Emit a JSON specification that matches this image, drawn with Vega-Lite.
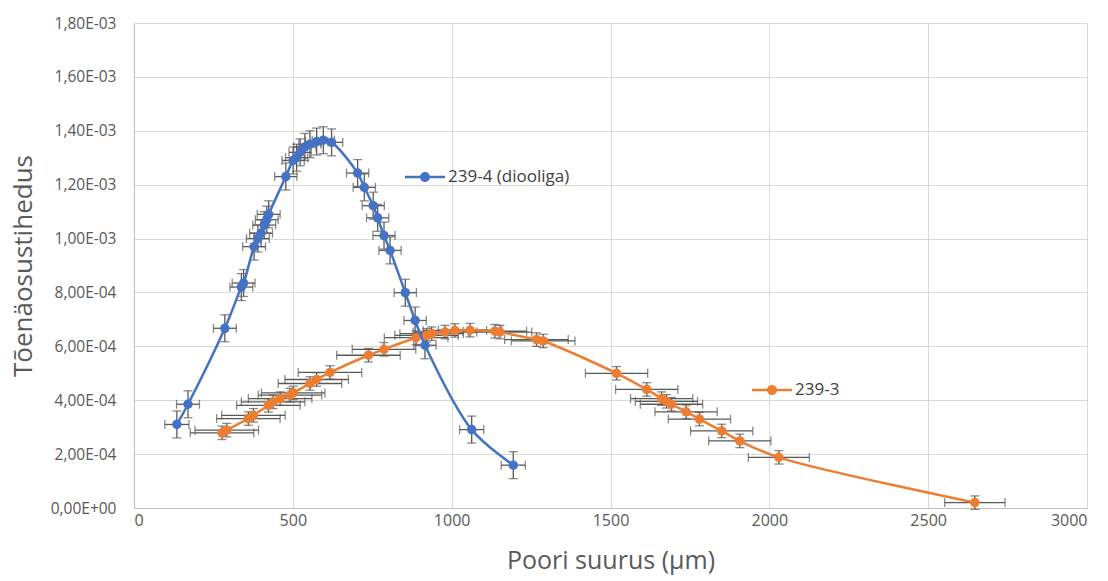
{
  "$schema": "https://vega.github.io/schema/vega-lite/v6.json",
  "autosize": "none",
  "width": 953,
  "height": 485,
  "padding": {"left": 134, "top": 23, "right": 21, "bottom": 73},
  "background": "white",
  "config": {
    "view": {"stroke": null},
    "font": "Open Sans",
    "axis": {"labelColor": "#595959", "titleColor": "#595959", "labelFont": "Open Sans", "titleFont": "Open Sans", "titleFontWeight": "normal", "gridColor": "#d9d9d9", "gridWidth": 1, "domainColor": "#bfbfbf", "ticks": false}
  },
  "data": {
    "values": [
      {"s": "239-4 (diooliga)", "x": 135, "y": 0.000310, "ex": 38, "ey": 0.00005},
      {"s": "239-4 (diooliga)", "x": 170, "y": 0.000385, "ex": 36, "ey": 0.00005},
      {"s": "239-4 (diooliga)", "x": 286, "y": 0.000667, "ex": 36, "ey": 0.00005},
      {"s": "239-4 (diooliga)", "x": 338, "y": 0.000820, "ex": 36, "ey": 0.00005},
      {"s": "239-4 (diooliga)", "x": 345, "y": 0.000835, "ex": 36, "ey": 0.00005},
      {"s": "239-4 (diooliga)", "x": 378, "y": 0.000970, "ex": 36, "ey": 0.00005},
      {"s": "239-4 (diooliga)", "x": 390, "y": 0.001000, "ex": 36, "ey": 0.00005},
      {"s": "239-4 (diooliga)", "x": 400, "y": 0.001020, "ex": 36, "ey": 0.00005},
      {"s": "239-4 (diooliga)", "x": 410, "y": 0.001050, "ex": 36, "ey": 0.00005},
      {"s": "239-4 (diooliga)", "x": 418, "y": 0.001070, "ex": 36, "ey": 0.00005},
      {"s": "239-4 (diooliga)", "x": 424, "y": 0.001090, "ex": 36, "ey": 0.00005},
      {"s": "239-4 (diooliga)", "x": 478, "y": 0.001230, "ex": 35, "ey": 0.00005},
      {"s": "239-4 (diooliga)", "x": 501, "y": 0.001290, "ex": 35, "ey": 0.00005},
      {"s": "239-4 (diooliga)", "x": 512, "y": 0.001300, "ex": 35, "ey": 0.00005},
      {"s": "239-4 (diooliga)", "x": 523, "y": 0.001320, "ex": 35, "ey": 0.00005},
      {"s": "239-4 (diooliga)", "x": 538, "y": 0.001340, "ex": 35, "ey": 0.00005},
      {"s": "239-4 (diooliga)", "x": 554, "y": 0.001350, "ex": 35, "ey": 0.00005},
      {"s": "239-4 (diooliga)", "x": 575, "y": 0.001360, "ex": 35, "ey": 0.00005},
      {"s": "239-4 (diooliga)", "x": 596, "y": 0.001365, "ex": 35, "ey": 0.00005},
      {"s": "239-4 (diooliga)", "x": 622, "y": 0.001357, "ex": 35, "ey": 0.00005},
      {"s": "239-4 (diooliga)", "x": 704, "y": 0.001243, "ex": 35, "ey": 0.00005},
      {"s": "239-4 (diooliga)", "x": 725, "y": 0.001190, "ex": 35, "ey": 0.00005},
      {"s": "239-4 (diooliga)", "x": 753, "y": 0.001122, "ex": 35, "ey": 0.00005},
      {"s": "239-4 (diooliga)", "x": 767, "y": 0.001077, "ex": 35, "ey": 0.00005},
      {"s": "239-4 (diooliga)", "x": 787, "y": 0.001011, "ex": 35, "ey": 0.00005},
      {"s": "239-4 (diooliga)", "x": 806, "y": 0.000956, "ex": 35, "ey": 0.00005},
      {"s": "239-4 (diooliga)", "x": 854, "y": 0.000799, "ex": 35, "ey": 0.00005},
      {"s": "239-4 (diooliga)", "x": 885, "y": 0.000696, "ex": 35, "ey": 0.00005},
      {"s": "239-4 (diooliga)", "x": 916, "y": 0.000604, "ex": 35, "ey": 0.00005},
      {"s": "239-4 (diooliga)", "x": 1063, "y": 0.000291, "ex": 38, "ey": 0.00005},
      {"s": "239-4 (diooliga)", "x": 1194, "y": 0.000159, "ex": 38, "ey": 0.00005},
      {"s": "239-3", "x": 277, "y": 0.000279, "ex": 100, "ey": 0.000025},
      {"s": "239-3", "x": 292, "y": 0.000289, "ex": 100, "ey": 0.000025},
      {"s": "239-3", "x": 360, "y": 0.000332, "ex": 100, "ey": 0.000025},
      {"s": "239-3", "x": 376, "y": 0.000344, "ex": 100, "ey": 0.000025},
      {"s": "239-3", "x": 423, "y": 0.000381, "ex": 100, "ey": 0.000025},
      {"s": "239-3", "x": 438, "y": 0.000394, "ex": 100, "ey": 0.000025},
      {"s": "239-3", "x": 460, "y": 0.000406, "ex": 100, "ey": 0.000025},
      {"s": "239-3", "x": 491, "y": 0.000419, "ex": 100, "ey": 0.000025},
      {"s": "239-3", "x": 501, "y": 0.000427, "ex": 100, "ey": 0.000025},
      {"s": "239-3", "x": 554, "y": 0.000462, "ex": 100, "ey": 0.000025},
      {"s": "239-3", "x": 575, "y": 0.000477, "ex": 100, "ey": 0.000025},
      {"s": "239-3", "x": 617, "y": 0.000503, "ex": 100, "ey": 0.000025},
      {"s": "239-3", "x": 738, "y": 0.000567, "ex": 100, "ey": 0.000025},
      {"s": "239-3", "x": 787, "y": 0.000589, "ex": 100, "ey": 0.000025},
      {"s": "239-3", "x": 888, "y": 0.000632, "ex": 100, "ey": 0.000025},
      {"s": "239-3", "x": 921, "y": 0.000641, "ex": 100, "ey": 0.000025},
      {"s": "239-3", "x": 937, "y": 0.000647, "ex": 100, "ey": 0.000025},
      {"s": "239-3", "x": 979, "y": 0.000653, "ex": 100, "ey": 0.000025},
      {"s": "239-3", "x": 1010, "y": 0.000659, "ex": 100, "ey": 0.000025},
      {"s": "239-3", "x": 1058, "y": 0.000660, "ex": 100, "ey": 0.000025},
      {"s": "239-3", "x": 1136, "y": 0.000656, "ex": 100, "ey": 0.000025},
      {"s": "239-3", "x": 1152, "y": 0.000653, "ex": 100, "ey": 0.000025},
      {"s": "239-3", "x": 1267, "y": 0.000625, "ex": 100, "ey": 0.000025},
      {"s": "239-3", "x": 1288, "y": 0.000620, "ex": 100, "ey": 0.000025},
      {"s": "239-3", "x": 1519, "y": 0.000500, "ex": 98, "ey": 0.000025},
      {"s": "239-3", "x": 1614, "y": 0.000440, "ex": 98, "ey": 0.000025},
      {"s": "239-3", "x": 1661, "y": 0.000406, "ex": 98, "ey": 0.000025},
      {"s": "239-3", "x": 1676, "y": 0.000396, "ex": 98, "ey": 0.000025},
      {"s": "239-3", "x": 1692, "y": 0.000385, "ex": 98, "ey": 0.000025},
      {"s": "239-3", "x": 1738, "y": 0.000357, "ex": 98, "ey": 0.000025},
      {"s": "239-3", "x": 1780, "y": 0.000330, "ex": 98, "ey": 0.000025},
      {"s": "239-3", "x": 1850, "y": 0.000286, "ex": 98, "ey": 0.000025},
      {"s": "239-3", "x": 1907, "y": 0.000249, "ex": 98, "ey": 0.000025},
      {"s": "239-3", "x": 2030, "y": 0.000188, "ex": 96, "ey": 0.000025},
      {"s": "239-3", "x": 2647, "y": 0.000020, "ex": 95, "ey": 0.000025}
    ]
  },
  "encoding": {
    "x": {"field": "x", "type": "quantitative", "scale": {"domain": [0, 3000], "nice": false},
      "axis": {"values": [0, 500, 1000, 1500, 2000, 2500, 3000], "format": "d", "labelFontSize": 16, "labelPadding": 4, "title": "Poori suurus (µm)", "titleFontSize": 25, "titlePadding": 20}},
    "y": {"field": "y", "type": "quantitative", "scale": {"domain": [0, 0.0018], "nice": false},
      "axis": {"values": [0, 0.0002, 0.0004, 0.0006, 0.0008, 0.001, 0.0012, 0.0014, 0.0016, 0.0018],
        "labelExpr": "replace(replace(replace(replace(format(datum.value, '.2e'), '.', ','), 'e-3', 'E-03'), 'e-4', 'E-04'), 'e+0', 'E+00')",
        "labelFontSize": 15.5, "labelPadding": 18, "title": "Tõenäosustihedus", "titleFontSize": 26, "titlePadding": 14}}
  },
  "layer": [
    {"mark": {"type": "errorbar", "ticks": {"size": 9, "color": "#595959"}, "color": "#595959", "thickness": 1.3},
     "encoding": {"x": {"field": "x", "type": "quantitative"}, "xError": {"field": "ex"}, "y": {"field": "y", "type": "quantitative"}}},
    {"mark": {"type": "errorbar", "ticks": {"size": 9, "color": "#595959"}, "color": "#595959", "thickness": 1.3},
     "encoding": {"y": {"field": "y", "type": "quantitative"}, "yError": {"field": "ey"}, "x": {"field": "x", "type": "quantitative"}}},
    {"transform": [{"filter": "datum.s == '239-3'"}],
     "mark": {"type": "line", "color": "#ED7D31", "strokeWidth": 2.5, "interpolate": "catmull-rom"}},
    {"transform": [{"filter": "datum.s == '239-3'"}],
     "mark": {"type": "point", "filled": true, "opacity": 1, "size": 90},
     "encoding": {"color": {"field": "s", "type": "nominal", "scale": {"range": ["#ED7D31"]},
       "legend": {"title": null, "orient": "none", "legendX": 618, "legendY": 347, "padding": 0, "symbolType": "M-1,-0.06L1,-0.06L1,0.06L-1,0.06Z M-0.25,0A0.25,0.25,0,1,1,0.25,0A0.25,0.25,0,1,1,-0.25,0Z", "symbolSize": 1600, "symbolStrokeWidth": 0, "labelFontSize": 17, "labelColor": "#404040", "labelFont": "Open Sans", "labelOffset": 3}}}},
    {"transform": [{"filter": "datum.s == '239-4 (diooliga)'"}],
     "mark": {"type": "line", "color": "#4472C4", "strokeWidth": 2.5, "interpolate": "catmull-rom"}},
    {"transform": [{"filter": "datum.s == '239-4 (diooliga)'"}],
     "mark": {"type": "point", "filled": true, "opacity": 1, "size": 90},
     "encoding": {"color": {"field": "s", "type": "nominal", "scale": {"range": ["#4472C4"]},
       "legend": {"title": null, "orient": "none", "legendX": 271, "legendY": 134, "padding": 0, "symbolType": "M-1,-0.06L1,-0.06L1,0.06L-1,0.06Z M-0.25,0A0.25,0.25,0,1,1,0.25,0A0.25,0.25,0,1,1,-0.25,0Z", "symbolSize": 1600, "symbolStrokeWidth": 0, "labelFontSize": 17, "labelColor": "#404040", "labelFont": "Open Sans", "labelOffset": 3}}}}
  ],
  "resolve": {"scale": {"color": "independent"}, "legend": {"color": "independent"}}
}
